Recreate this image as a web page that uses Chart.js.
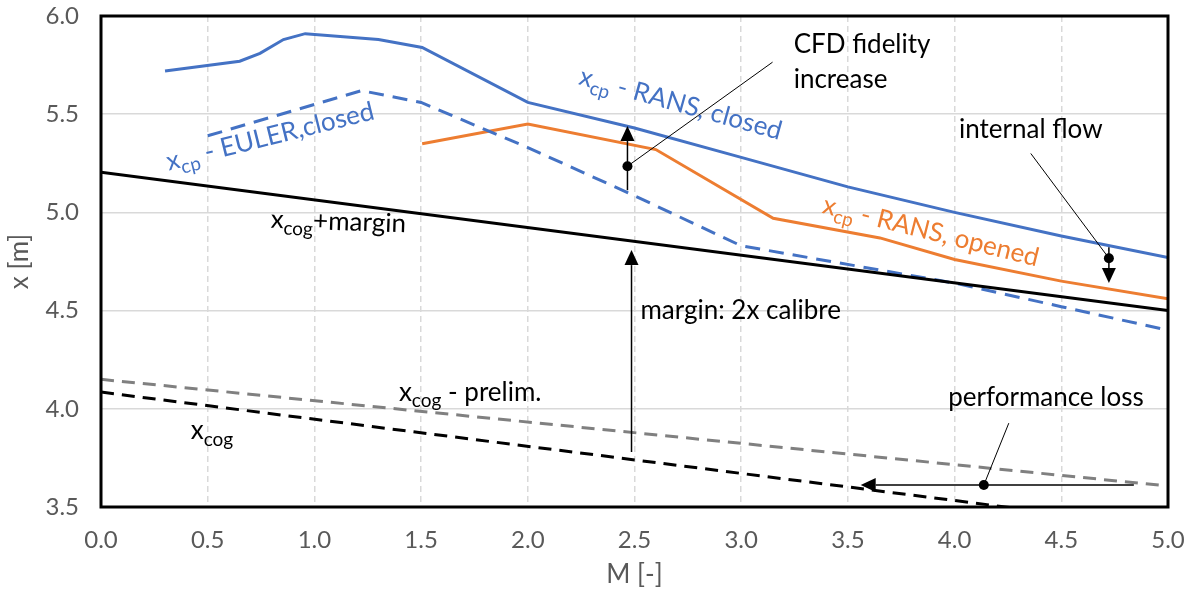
<!DOCTYPE html>
<html><head><meta charset="utf-8">
<script src="https://cdn.jsdelivr.net/npm/chart.js@4/dist/chart.umd.min.js"></script>
<style>html,body{margin:0;padding:0;background:#fff}#wrap{width:1193px;height:592px;position:relative}</style>
</head><body><div id="wrap"><canvas id="c"></canvas></div>
<script>
// ---- data ----
const machRansClosed = [0.30, 0.65, 0.745, 0.855, 0.957, 1.30, 1.505, 2.0, 2.5, 3.0, 3.5, 4.0, 4.5, 5.0];
const xRansClosed    = [5.72, 5.77, 5.81, 5.88, 5.91, 5.88, 5.84, 5.56, 5.43, 5.28, 5.13, 5.00, 4.88, 4.77];
const machEulerClosed = [0.50, 1.22, 1.50, 2.0, 2.47, 3.0, 4.0, 4.5, 5.0];
const xEulerClosed    = [5.39, 5.62, 5.56, 5.33, 5.10, 4.83, 4.64, 4.52, 4.40];
const machRansOpened = [1.505, 2.0, 2.6, 3.15, 3.65, 4.0, 4.5, 5.0];
const xRansOpened    = [5.35, 5.45, 5.32, 4.97, 4.87, 4.76, 4.65, 4.56];
const machCogMargin = [0, 5.0];
const xCogMargin    = [5.205, 4.50];
const machCogPrelim = [0, 4.97];
const xCogPrelim    = [4.15, 3.61];
const machCog = [0, 5.0];
const xCog    = [4.085, 3.395];
const xTickLabels = ['0.0','0.5','1.0','1.5','2.0','2.5','3.0','3.5','4.0','4.5','5.0'];
const yTickLabels = ['3.5','4.0','4.5','5.0','5.5','6.0'];

// annotation anchors (data coordinates)
const arrowCFD = {m: 2.467, from: 5.113, to: 5.44, dot: 5.235};
const leaderCFD = {m1: 2.467, x1: 5.235, m2: 3.147, x2: 5.765};
const arrowInternal = {m: 4.723, from: 4.823, to: 4.64, dot: 4.767};
const leaderInternal = {m1: 4.723, x1: 4.767, m2: 4.357, x2: 5.30};
const arrowMargin = {m: 2.486, from: 3.78, to: 4.808};
const arrowPerf = {x: 3.612, from: 4.84, to: 3.56, dot: 4.137};
const leaderPerf = {m1: 4.137, x1: 3.612, m2: 4.254, x2: 3.927};

const pts = (a, b) => a.map((v, i) => ({x: v, y: b[i]}));
const BLUE = '#4472C4', ORANGE = '#ED7D31', GRAY = '#808080';
const FONT = 'Lato, "Open Sans", sans-serif';

function rich(ctx, parts, x, y, ang, color, size, align) {
  ctx.save(); ctx.translate(x, y); ctx.rotate(ang * Math.PI / 180);
  ctx.fillStyle = color; ctx.textBaseline = 'alphabetic';
  const fonts = parts.map(p => (p.sub ? Math.round(size * 0.72) : size) + 'px ' + FONT);
  let w = 0;
  parts.forEach((p, i) => { ctx.font = fonts[i]; w += ctx.measureText(p.t).width; });
  let cx = align === 'left' ? 0 : -w / 2;
  parts.forEach((p, i) => { ctx.font = fonts[i]; ctx.fillText(p.t, cx, size * 0.3 + (p.sub ? size * 0.25 : 0)); cx += ctx.measureText(p.t).width; });
  ctx.restore();
}
function arrow(ctx, x1, y1, x2, y2, lw) {
  const a = Math.atan2(y2 - y1, x2 - x1), L = 15, W = 7;
  ctx.save(); ctx.strokeStyle = '#000'; ctx.fillStyle = '#000'; ctx.lineWidth = lw;
  ctx.beginPath(); ctx.moveTo(x1, y1); ctx.lineTo(x2 - L * Math.cos(a), y2 - L * Math.sin(a)); ctx.stroke();
  ctx.beginPath(); ctx.moveTo(x2, y2);
  ctx.lineTo(x2 - L * Math.cos(a) + W * Math.sin(a), y2 - L * Math.sin(a) - W * Math.cos(a));
  ctx.lineTo(x2 - L * Math.cos(a) - W * Math.sin(a), y2 - L * Math.sin(a) + W * Math.cos(a));
  ctx.closePath(); ctx.fill(); ctx.restore();
}
function line(ctx, x1, y1, x2, y2, lw) {
  ctx.save(); ctx.strokeStyle = '#000'; ctx.lineWidth = lw; ctx.beginPath(); ctx.moveTo(x1, y1); ctx.lineTo(x2, y2); ctx.stroke(); ctx.restore();
}
function dot(ctx, x, y) { ctx.save(); ctx.fillStyle = '#000'; ctx.beginPath(); ctx.arc(x, y, 5, 0, Math.PI * 2); ctx.fill(); ctx.restore(); }

const annot = {
  id: 'annot',
  afterDatasetsDraw(chart) {
    const ctx = chart.ctx, X = chart.scales.x, Y = chart.scales.y;
    const px = v => X.getPixelForValue(v), py = v => Y.getPixelForValue(v);
    const AS = 26;
    // CFD fidelity increase
    line(ctx, px(leaderCFD.m1), py(leaderCFD.x1), px(leaderCFD.m2), py(leaderCFD.x2), 1);
    arrow(ctx, px(arrowCFD.m), py(arrowCFD.from), px(arrowCFD.m), py(arrowCFD.to), 1.5);
    dot(ctx, px(arrowCFD.m), py(arrowCFD.dot));
    rich(ctx, [{t: 'CFD fidelity'}], px(3.246), py(5.851), 0, '#000', AS, 'left');
    rich(ctx, [{t: 'increase'}], px(3.246), py(5.673), 0, '#000', AS, 'left');
    // internal flow
    line(ctx, px(leaderInternal.m1), py(leaderInternal.x1), px(leaderInternal.m2), py(leaderInternal.x2), 1);
    arrow(ctx, px(arrowInternal.m), py(arrowInternal.from), px(arrowInternal.m), py(arrowInternal.to), 1.5);
    dot(ctx, px(arrowInternal.m), py(arrowInternal.dot));
    rich(ctx, [{t: 'internal flow'}], px(4.357), py(5.419), 0, '#000', AS, 'center');
    // margin
    arrow(ctx, px(arrowMargin.m), py(arrowMargin.from), px(arrowMargin.m), py(arrowMargin.to), 1.5);
    rich(ctx, [{t: 'margin: 2x calibre'}], px(2.528), py(4.497), 0, '#000', AS, 'left');
    // performance loss
    line(ctx, px(leaderPerf.m1), py(leaderPerf.x1), px(leaderPerf.m2), py(leaderPerf.x2), 1);
    arrow(ctx, px(arrowPerf.from), py(arrowPerf.x), px(arrowPerf.to), py(arrowPerf.x), 1.5);
    dot(ctx, px(arrowPerf.dot), py(arrowPerf.x));
    rich(ctx, [{t: 'performance loss'}], px(4.428), py(4.055), 0, '#000', AS, 'center');
    // series labels
    rich(ctx, [{t: 'x'}, {t: 'cp', sub: true}, {t: ' - RANS, closed'}], px(2.716), py(5.55), 15.5, BLUE, 26, 'center');
    rich(ctx, [{t: 'x'}, {t: 'cp', sub: true}, {t: ' - EULER,closed'}], px(0.793), py(5.383), -14, BLUE, 26, 'center');
    rich(ctx, [{t: 'x'}, {t: 'cp', sub: true}, {t: ' - RANS, opened'}], px(3.888), py(4.90), 14, ORANGE, 26, 'center');
    rich(ctx, [{t: 'x'}, {t: 'cog', sub: true}, {t: '+margin'}], px(1.112), py(4.95), 2, '#000', 26, 'center');
    rich(ctx, [{t: 'x'}, {t: 'cog', sub: true}, {t: ' - prelim.'}], px(1.73), py(4.08), 0, '#000', 26, 'center');
    rich(ctx, [{t: 'x'}, {t: 'cog', sub: true}], px(0.52), py(3.885), 0, '#000', 26, 'center');
  },
  afterDraw(chart) {
    const ctx = chart.ctx, a = chart.chartArea;
    ctx.save(); ctx.strokeStyle = '#000'; ctx.lineWidth = 3;
    ctx.strokeRect(a.left, a.top, a.right - a.left, a.bottom - a.top); ctx.restore();
  }
};

const ds = (label, m, x, color, dash) => ({
  label, data: pts(m, x), showLine: true, borderColor: color, backgroundColor: color,
  borderWidth: 3, borderDash: dash || [], pointRadius: 0, tension: 0, fill: false
});

new Chart(document.getElementById('c'), {
  type: 'scatter',
  data: {
    datasets: [
      ds('xcog - prelim.', machCogPrelim, xCogPrelim, GRAY, [13, 8]),
      ds('xcog', machCog, xCog, '#000', [13, 8]),
      ds('xcog+margin', machCogMargin, xCogMargin, '#000'),
      ds('xcp - EULER,closed', machEulerClosed, xEulerClosed, BLUE, [15, 9]),
      ds('xcp - RANS, opened', machRansOpened, xRansOpened, ORANGE),
      ds('xcp - RANS, closed', machRansClosed, xRansClosed, BLUE)
    ]
  },
  options: {
    responsive: true, maintainAspectRatio: false, animation: false,
    layout: {padding: {top: 16, right: 25, left: 0, bottom: 0}},
    plugins: {legend: {display: false}, tooltip: {enabled: false}},
    scales: {
      x: {
        type: 'linear', min: 0, max: 5,
        afterFit: s => { s.height = 85; s.paddingLeft = 0; s.paddingRight = 0; },
        afterBuildTicks: s => { s.ticks = xTickLabels.map(t => ({value: parseFloat(t)})); },
        ticks: {callback: (v) => xTickLabels.find(t => parseFloat(t) === v) || '', color: '#595959', font: {family: FONT, size: 24}, padding: 19, maxRotation: 0, autoSkip: false},
        grid: {color: '#d9d9d9', lineWidth: 1.5, drawTicks: false},
        border: {display: false, dash: [6, 4]},
        title: {display: true, text: 'M [-]', color: '#595959', font: {family: FONT, size: 26}, padding: {top: 0, bottom: 2}}
      },
      y: {
        type: 'linear', min: 3.5, max: 6.0,
        afterFit: s => { s.width = 101; s.paddingTop = 0; s.paddingBottom = 0; },
        afterBuildTicks: s => { s.ticks = yTickLabels.map(t => ({value: parseFloat(t)})); },
        ticks: {callback: (v) => yTickLabels.find(t => parseFloat(t) === v) || '', color: '#595959', font: {family: FONT, size: 24}, padding: 22},
        grid: {color: '#d9d9d9', lineWidth: 1.5, drawTicks: false},
        border: {display: false},
        title: {display: true, text: 'x [m]', color: '#595959', font: {family: FONT, size: 26}, padding: {top: 4, bottom: 0}}
      }
    }
  },
  plugins: [annot]
});
</script></body></html>
